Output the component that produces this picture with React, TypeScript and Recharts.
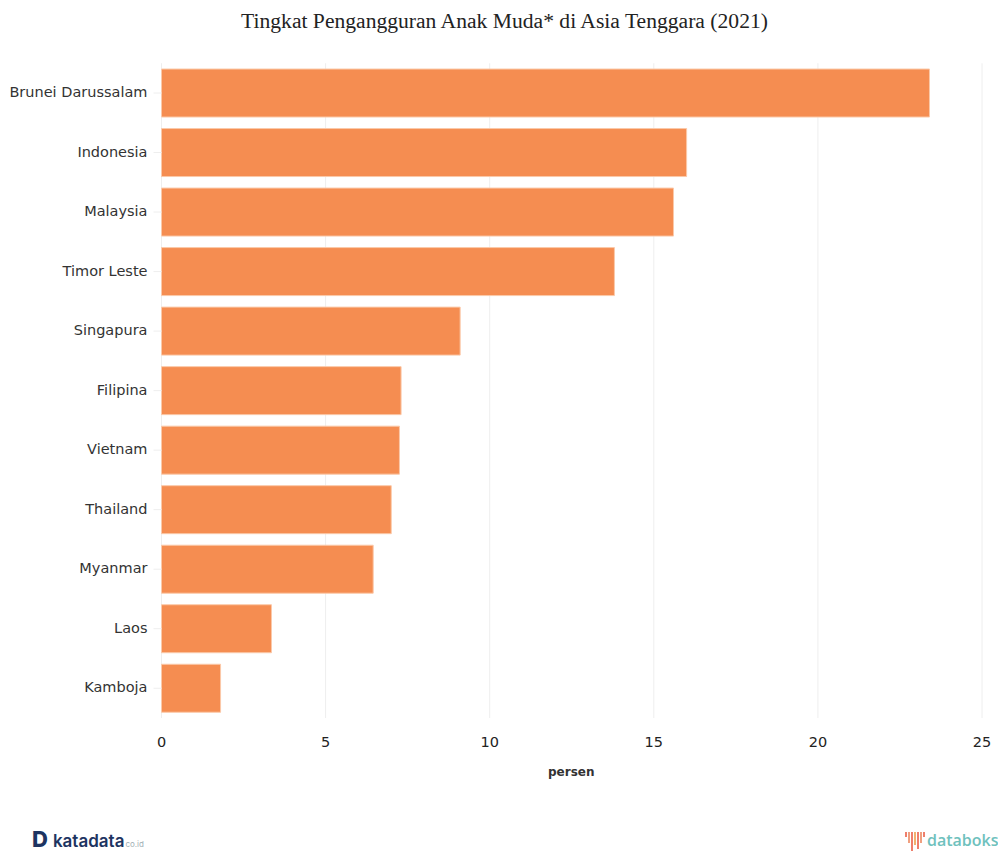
import { BarChart, Bar, XAxis, YAxis, CartesianGrid } from 'recharts'

const countries = [
  'Brunei Darussalam',
  'Indonesia',
  'Malaysia',
  'Timor Leste',
  'Singapura',
  'Filipina',
  'Vietnam',
  'Thailand',
  'Myanmar',
  'Laos',
  'Kamboja',
]
const rates = [23.4, 16.0, 15.6, 13.8, 9.1, 7.3, 7.25, 7.0, 6.45, 3.35, 1.8]
const xTicks = [0, 5, 10, 15, 20, 25]

const chartData = countries.map((name, i) => ({ name, value: rates[i] }))

const sans = '"DejaVu Sans", sans-serif'
const iconBars = ['#ef7f6c', '#f0a080', '#ef7f6c', '#f2b36f', '#ef7f6c', '#f0a080', '#ef7f6c']
const iconHeights = [5, 11, 19, 13, 17, 11, 5]

export default function App() {
  return (
    <div style={{ position: 'absolute', left: 0, top: 0, width: 998, height: 851, background: '#fff', overflow: 'hidden' }}>
      <div
        style={{
          position: 'absolute',
          top: 9,
          left: 0,
          width: 1009,
          textAlign: 'center',
          fontFamily: '"Liberation Serif", serif',
          fontSize: 21.6,
          color: '#222',
        }}
      >
        Tingkat Pengangguran Anak Muda* di Asia Tenggara (2021)
      </div>

      <BarChart
        width={998}
        height={851}
        layout="vertical"
        data={chartData}
        margin={{ top: 63.25, right: 16, bottom: 103, left: 0 }}
        barCategoryGap="9.7%"
      >
        <CartesianGrid horizontal={false} stroke="#eeeeee" strokeWidth={1} />
        <XAxis
          type="number"
          domain={[0, 25]}
          ticks={xTicks}
          height={30}
          axisLine={false}
          tickLine={false}
          tick={{ fontFamily: sans, fontSize: 14.5, fill: '#222' }}
          tickMargin={13}
          interval={0}
        />
        <YAxis
          type="category"
          dataKey="name"
          width={161.5}
          interval={0}
          axisLine={false}
          tickLine={{ stroke: '#eeeeee' }}
          tickSize={8}
          tickMargin={6}
          tick={{ fontFamily: sans, fontSize: 14.5, fill: '#333', dy: -1 }}
        />
        <Bar dataKey="value" fill="#f58d51" stroke="#fbc9a9" strokeWidth={1} isAnimationActive={false} />
      </BarChart>

      <div
        style={{
          position: 'absolute',
          left: 548,
          top: 765,
          fontFamily: sans,
          fontSize: 12,
          fontWeight: 700,
          color: '#333',
        }}
      >
        persen
      </div>

      {/* katadata wordmark */}
      <div style={{ position: 'absolute', left: 32, top: 828, height: 22, display: 'flex', alignItems: 'baseline', color: '#1d3461', fontFamily: 'Inter, sans-serif', lineHeight: '22px' }}>
        <span style={{ fontSize: 22, fontWeight: 800, marginRight: 5 }}>D</span>
        <span style={{ fontSize: 17, fontWeight: 600 }}>katadata</span>
        <span style={{ fontSize: 8, color: '#9fb0b5', marginLeft: 1 }}>co.id</span>
      </div>

      {/* databoks wordmark with its small bar icon */}
      <div style={{ position: 'absolute', left: 905, top: 830, height: 20, display: 'flex', alignItems: 'center' }}>
        <div style={{ display: 'flex', alignItems: 'flex-start', gap: 1, height: 20, marginRight: 2 }}>
          {iconBars.map((color, i) => (
            <div key={i} style={{ width: 2, height: iconHeights[i], marginTop: 2, background: color }} />
          ))}
        </div>
        <span style={{ fontFamily: '"Open Sans", sans-serif', fontSize: 16, fontWeight: 600, color: '#6fc1bd', lineHeight: '20px' }}>databoks</span>
      </div>
    </div>
  )
}
